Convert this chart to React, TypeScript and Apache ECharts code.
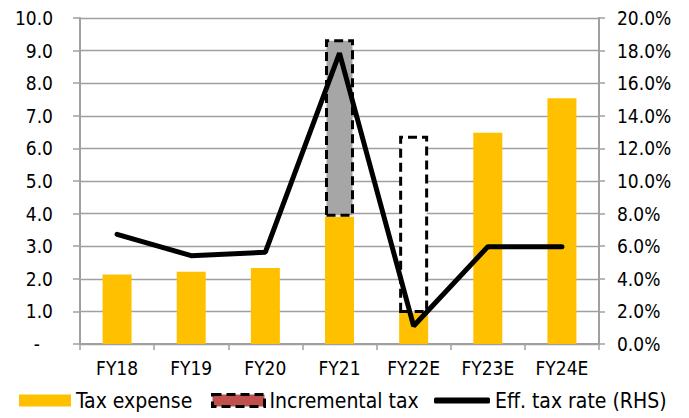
import React, { useEffect, useRef } from "react";
import * as echarts from "echarts";

const categories = ["FY18", "FY19", "FY20", "FY21", "FY22E", "FY23E", "FY24E"];
const taxExpense = [2.13, 2.22, 2.33, 3.9, 0.95, 6.48, 7.54];
const incrementalTax = [null, null, null, 5.45, 5.44, null, null];
const incrementalFill = [null, null, null, "#A6A6A6", "#FFFFFF", null, null];
const effTaxRate = [6.73, 5.42, 5.63, 17.85, 1.1, 5.97, 5.97];

const FONT = "'DejaVu Sans Condensed', 'DejaVu Sans', sans-serif";
const GRID = "#A0A0A0";

export default function App() {
  const ref = useRef<HTMLDivElement>(null);
  useEffect(() => {
    if (!ref.current) return;
    const chart = echarts.init(ref.current, undefined, { renderer: "svg" });
    const dash = [9, 5];
    const legendText = { fontFamily: FONT, fontSize: 21, color: "#000" };
    chart.setOption({
      animation: false,
      backgroundColor: "#fff",
      textStyle: { fontFamily: FONT },
      grid: { left: 80, right: 90, top: 18, bottom: 74, containLabel: false },
      legend: [
        {
          left: 19,
          top: 390,
          padding: 0,
          itemWidth: 52,
          itemHeight: 12,
          icon: "rect",
          textStyle: legendText,
          data: [{ name: "Tax expense", itemStyle: { color: "#FFC000" } }],
        },
        {
          left: 211,
          top: 390,
          padding: 0,
          itemWidth: 52,
          itemHeight: 12,
          icon: "rect",
          textStyle: legendText,
          data: [
            {
              name: "Incremental tax",
              itemStyle: {
                color: "#C0504D",
                borderColor: "#000",
                borderWidth: 3,
                borderType: dash,
              },
            },
          ],
        },
        {
          left: 434,
          top: 390,
          padding: 0,
          itemWidth: 56,
          itemHeight: 6,
          icon: "roundRect",
          textStyle: legendText,
          data: [{ name: "Eff. tax rate (RHS)", itemStyle: { color: "#000" } }],
        },
      ],
      xAxis: {
        type: "category",
        data: categories,
        axisLine: { lineStyle: { color: GRID, width: 2 } },
        axisTick: { show: true, length: 6, lineStyle: { color: GRID, width: 1.5 } },
        axisLabel: { color: "#000", fontSize: 19, fontFamily: FONT, margin: 14 },
      },
      yAxis: [
        {
          type: "value",
          min: 0,
          max: 10,
          interval: 1,
          position: "left",
          axisLine: { show: true, lineStyle: { color: GRID, width: 2 } },
          axisTick: { show: true, length: 7, lineStyle: { color: GRID, width: 1.5 } },
          splitLine: { show: true, lineStyle: { color: GRID, width: 1.3 } },
          axisLabel: {
            color: "#000",
            fontSize: 19,
            fontFamily: FONT,
            margin: 27,
            formatter: (v: number) => (v === 0 ? "{d|-}" : v.toFixed(1)),
            rich: { d: { fontSize: 19, fontFamily: FONT, color: "#000", padding: [0, 13, 0, 0] } },
          },
        },
        {
          type: "value",
          min: 0,
          max: 20,
          interval: 2,
          position: "right",
          axisLine: { show: true, lineStyle: { color: GRID, width: 2 } },
          axisTick: { show: true, length: 6, lineStyle: { color: GRID, width: 1.5 } },
          splitLine: { show: false },
          axisLabel: {
            color: "#000",
            fontSize: 19,
            fontFamily: FONT,
            margin: 18,
            formatter: (v: number) => v.toFixed(1) + "%",
          },
        },
      ],
      series: [
        {
          name: "Tax expense",
          type: "bar",
          stack: "tax",
          barWidth: 29,
          itemStyle: { color: "#FFC000" },
          data: taxExpense,
          z: 2,
        },
        {
          name: "Incremental tax",
          type: "bar",
          stack: "tax",
          barWidth: 29,
          itemStyle: { color: "#A6A6A6", borderColor: "#000", borderWidth: 3, borderType: dash },
          data: incrementalTax.map((v, i) =>
            v == null
              ? null
              : { value: v, itemStyle: { color: incrementalFill[i], borderColor: "#000", borderWidth: 3, borderType: dash } }
          ),
          z: 2,
        },
        {
          name: "Eff. tax rate (RHS)",
          type: "line",
          yAxisIndex: 1,
          data: effTaxRate,
          symbol: "none",
          lineStyle: { color: "#000", width: 5, cap: "round" },
          itemStyle: { color: "#000" },
          z: 4,
        },
      ],
    });
    return () => chart.dispose();
  }, []);
  return (
    <div
      ref={ref}
      style={{ position: "fixed", left: 0, top: 0, width: 689, height: 418 }}
    />
  );
}
